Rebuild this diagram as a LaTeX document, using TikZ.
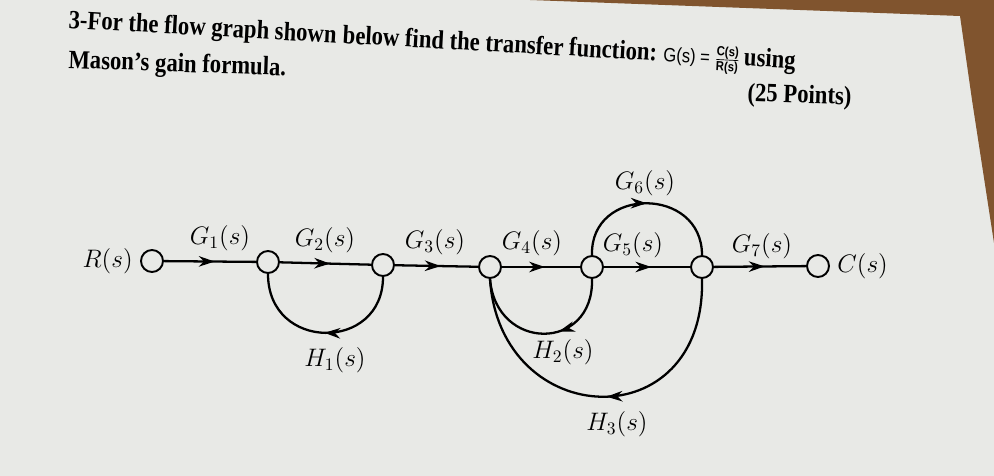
\documentclass[tikz,border=0pt]{standalone}
\usepackage{fontspec}
\setmainfont{Liberation Serif}
\newfontfamily\sansf{Liberation Sans}
\usetikzlibrary{arrows.meta,decorations.markings}
\definecolor{paper}{RGB}{232,233,230}
\definecolor{wood}{RGB}{128,84,46}
\tikzset{
  sfg/.style={circle,draw,line width=1.1pt,fill=paper,minimum size=0.44cm,inner sep=0pt},
  branch/.style={line width=1.3pt,postaction={decorate},
    decoration={markings,mark=at position #1 with {\arrow{Stealth[length=9pt,width=6pt]}}}},
  branch/.default=0.55,
  lbl/.style={font=\fontsize{14}{16}\selectfont,inner sep=1pt},
  head/.style={anchor=base west,inner sep=0pt,font=\fontsize{15}{17}\selectfont\bfseries}
}
\newcommand{\narrow}[1]{\scalebox{0.86}[1]{#1}}
\newcommand{\fracsf}[1]{\mbox{\sansf\bfseries\fontsize{7.5}{8}\selectfont #1}}

\begin{document}
\begin{tikzpicture}[x=0.02cm,y=-0.02cm]
    % paper and table
    \fill[paper] (0,0) rectangle (994,476);
    \fill[wood] (530,0) -- (800,10) -- (960,16) -- (972,100) -- (994,243) -- (994,0) -- cycle;
    \useasboundingbox (0,0) rectangle (994,476);

    \node[head,rotate=-3.2] (line1a) at (68,28) {\narrow{3-For the flow graph shown}};
    \node[head,rotate=-3.2] (line1b) at (line1a.base east) {\narrow{~below find the transfer function:}};
    \node[head,rotate=-3.2] (line1c) at (line1b.base east) {\narrow{~{\mdseries\sansf\fontsize{11}{12}\selectfont G(s) = $\frac{\fracsf{C(s)}}{\fracsf{R(s)}}$}\,using}};
    \node[head,rotate=-2] (line2) at (68,68) {\narrow{Mason's gain formula.}};
    \node[head,rotate=-2] (points) at (747,101) {\narrow{(25 Points)}};

    \node[sfg] (R) at (152,261) {};
    \node[sfg] (n1) at (268,262) {};
    \node[sfg] (n2) at (383,265) {};
    \node[sfg] (n3) at (490,267) {};
    \node[sfg] (n4) at (592,267) {};
    \node[sfg] (n5) at (702,267) {};
    \node[sfg] (C) at (818,266) {};

    \node[lbl,left=3pt] (Rs) at (R.west) {$R(s)$};
    \node[lbl,right=3pt] (Cs) at (C.east) {$C(s)$};

    \draw[branch] (R) -- (n1);
    \draw[branch] (n1) -- (n2);
    \draw[branch] (n2) -- (n3);
    \draw[branch] (n3) -- (n4);
    \draw[branch] (n4) -- (n5);
    \draw[branch] (n5) -- (C);
    \draw[branch=0.5] (n4.north) .. controls (590,186) and (702,186) .. (n5.north);
    \draw[branch=0.5] (n2.south) .. controls (383,352) and (268,352) .. (n1.south);
    \draw[branch=0.4] (n4.south) .. controls (594,352) and (496,352) .. (n3.south);
    \draw[branch=0.48] (n5.south) .. controls (706,440) and (500,432) .. (n3.south);

    \node[lbl] (G1) at (220,238) {$G_1(s)$};
    \node[lbl] (G2) at (325,240) {$G_2(s)$};
    \node[lbl] (G3) at (435,242) {$G_3(s)$};
    \node[lbl] (G4) at (532,243) {$G_4(s)$};
    \node[lbl] (G5) at (633,245) {$G_5(s)$};
    \node[lbl] (G6) at (645,183) {$G_6(s)$};
    \node[lbl] (G7) at (762,246) {$G_7(s)$};
    \node[lbl] (H1) at (335,360) {$H_1(s)$};
    \node[lbl] (H2) at (563,352) {$H_2(s)$};
    \node[lbl] (H3) at (617,424) {$H_3(s)$};
\end{tikzpicture}
\end{document}
